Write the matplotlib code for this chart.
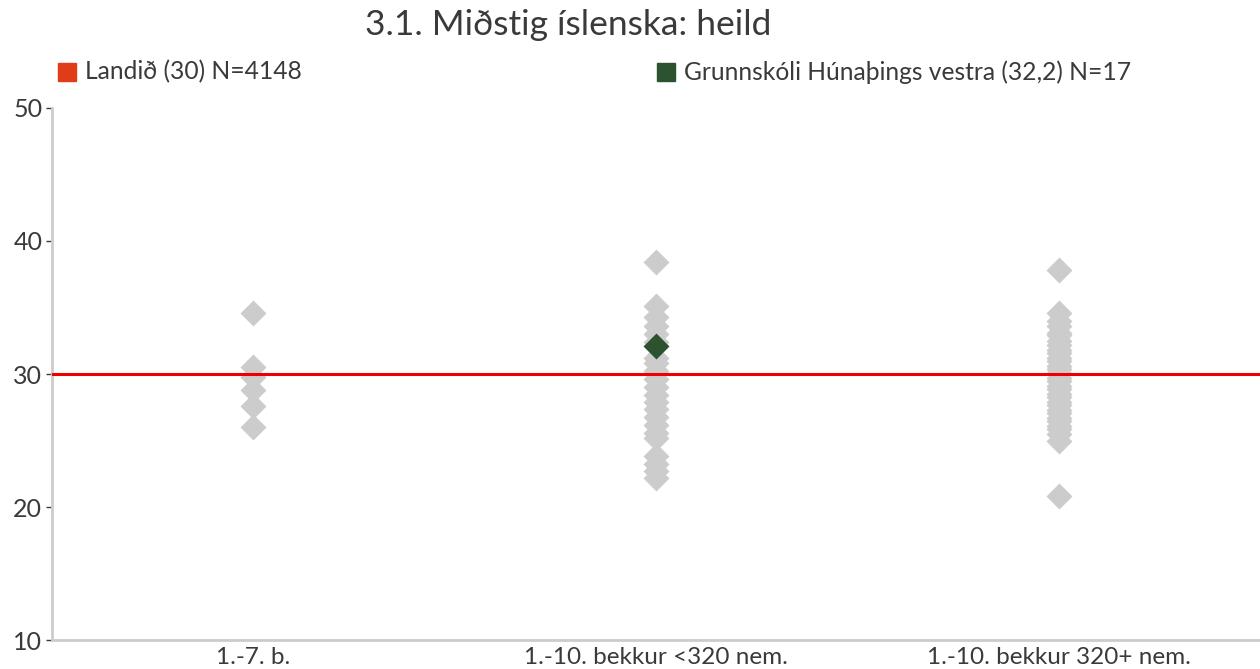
import matplotlib
matplotlib.use("Agg")
import matplotlib.pyplot as plt
from matplotlib.patches import Rectangle

plt.rcParams['font.family'] = ['Lato', 'DejaVu Sans']

categories = ["1.-7. b.", "1.-10. bekkur <320 nem.", "1.-10. bekkur 320+ nem."]
group1 = [34.6, 30.5, 29.8, 28.8, 27.6, 26.0]
group2 = [38.4, 35.1, 34.3, 33.6, 33.0, 32.4, 31.2, 30.8, 30.2, 29.6, 29.0,
          28.4, 27.9, 27.4, 26.8, 26.2, 25.6, 25.2, 23.8, 23.2, 22.7, 22.2]
group3 = [37.8, 34.6, 34.0, 33.6, 33.1, 32.9, 32.5, 32.2, 31.8, 31.6, 31.2,
          31.0, 30.6, 30.4, 30.1, 29.7, 29.5, 29.1, 28.9, 28.5, 28.3, 27.9,
          27.7, 27.3, 27.1, 26.7, 26.5, 26.1, 25.9, 25.5, 25.0, 20.8]
school_cat = 1
school_value = 32.1
national_value = 30
legend_labels = ["Landið (30) N=4148", "Grunnskóli Húnaþings vestra (32,2) N=17"]
title = "3.1. Miðstig íslenska: heild"
yticks = [10, 20, 30, 40, 50]

gray = "#cccccc"
green = "#2d5230"
red_line = "#ee0000"
red_legend = "#e03c17"
text_color = "#3a3a3a"

fig = plt.figure(figsize=(12.6, 6.69), dpi=100)
ax = fig.add_axes([0.0413, 0.0433, 0.9587, 0.7953])

groups = [group1, group2, group3]
for i, g in enumerate(groups):
    ax.scatter([i] * len(g), g, marker='D', s=175, color=gray, linewidths=0, zorder=2)
ax.axhline(national_value, color=red_line, lw=2.2, zorder=3)
ax.scatter([school_cat], [school_value], marker='D', s=175, color=green, linewidths=0, zorder=4)

ax.set_xlim(-0.5, 2.5)
ax.set_ylim(10, 50)
ax.set_yticks(yticks)
ax.set_xticks(range(len(categories)))
ax.set_xticklabels(categories)
ax.tick_params(axis='y', length=4, width=1, color=text_color, labelsize=18,
               labelcolor=text_color, pad=3)
ax.tick_params(axis='x', length=0, labelsize=17.5, labelcolor=text_color, pad=5)
for s in ['top', 'right']:
    ax.spines[s].set_visible(False)
for s in ['left', 'bottom']:
    ax.spines[s].set_color(gray)
    ax.spines[s].set_linewidth(2)

fig.text(0.451, 0.962, title, ha='center', va='center', fontsize=25.5,
         color=text_color)

# legend
for (x0, col, lab) in [(58, red_legend, legend_labels[0]), (657, green, legend_labels[1])]:
    fig.patches.append(Rectangle((x0 / 1260, 1 - 81 / 669), 18 / 1260, 18 / 669,
                                 transform=fig.transFigure, color=col))
    fig.text((x0 + 27) / 1260, 1 - 72 / 669, lab, ha='left', va='center',
             fontsize=17.7, color=text_color)

fig.savefig("out.png", dpi=100)
